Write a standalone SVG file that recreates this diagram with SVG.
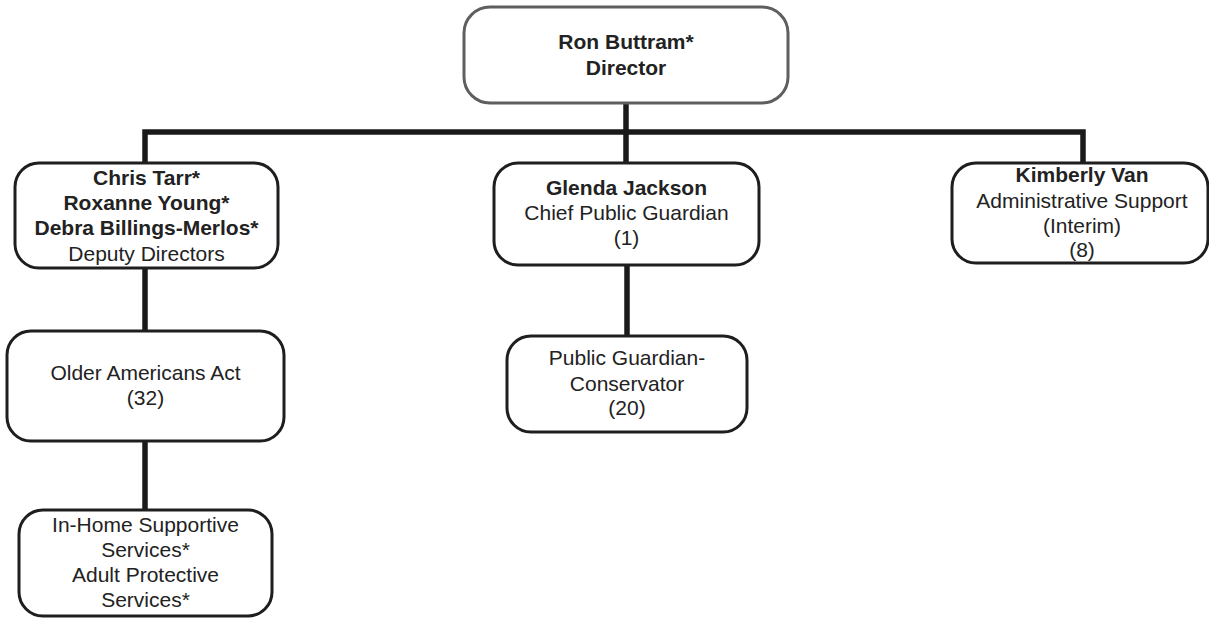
<svg xmlns="http://www.w3.org/2000/svg" width="1209" height="618" viewBox="0 0 1209 618">
<style>
.box{fill:#fff;stroke:#1e1e1e;stroke-width:3}
.top{stroke:#5f5f5f}
.conn{stroke:#1a1a1a;stroke-width:5.5;fill:none;stroke-linecap:butt;stroke-linejoin:miter}
text{font-family:"Liberation Sans",Arial,sans-serif;font-size:21px;fill:#222;text-anchor:middle}
.b{font-weight:bold}
</style>
<rect width="1209" height="618" fill="#fff"/>
<g id="connectors">
<path class="conn" d="M626,103 V163"/>
<path class="conn" d="M145,163 V132 H1083 V163"/>
<path class="conn" d="M145,268 V331"/>
<path class="conn" d="M145,441 V510"/>
<path class="conn" d="M627,265 V336"/>
</g>
<g id="director">
<rect class="box top" x="464" y="7" width="324" height="96" rx="26"/>
<text class="b" x="626" y="49">Ron Buttram*</text>
<text class="b" x="626" y="75">Director</text>
</g>
<g id="deputies">
<rect class="box" x="15" y="163" width="263" height="105" rx="24"/>
<text class="b" x="146.5" y="185">Chris Tarr*</text>
<text class="b" x="146.5" y="210">Roxanne Young*</text>
<text class="b" x="146.5" y="235">Debra Billings-Merlos*</text>
<text x="146.5" y="261">Deputy Directors</text>
</g>
<g id="chief-guardian">
<rect class="box" x="494" y="163" width="265" height="102" rx="24"/>
<text class="b" x="626.5" y="195">Glenda Jackson</text>
<text x="626.5" y="220">Chief Public Guardian</text>
<text x="626.5" y="245">(1)</text>
</g>
<g id="admin-support">
<rect class="box" x="952" y="163" width="256" height="100" rx="24"/>
<text class="b" x="1082" y="182">Kimberly Van</text>
<text x="1082" y="208">Administrative Support</text>
<text x="1082" y="233">(Interim)</text>
<text x="1082" y="257">(8)</text>
</g>
<g id="older-americans">
<rect class="box" x="7" y="331" width="277" height="110" rx="24"/>
<text x="145.5" y="380">Older Americans Act</text>
<text x="145.5" y="405">(32)</text>
</g>
<g id="public-guardian">
<rect class="box" x="507" y="336" width="240" height="96" rx="24"/>
<text x="627" y="365">Public Guardian-</text>
<text x="627" y="391">Conservator</text>
<text x="627" y="415">(20)</text>
</g>
<g id="ihss-aps">
<rect class="box" x="19" y="510" width="253" height="106" rx="24"/>
<text x="145.5" y="532">In-Home Supportive</text>
<text x="145.5" y="557">Services*</text>
<text x="145.5" y="582">Adult Protective</text>
<text x="145.5" y="607">Services*</text>
</g>
</svg>
